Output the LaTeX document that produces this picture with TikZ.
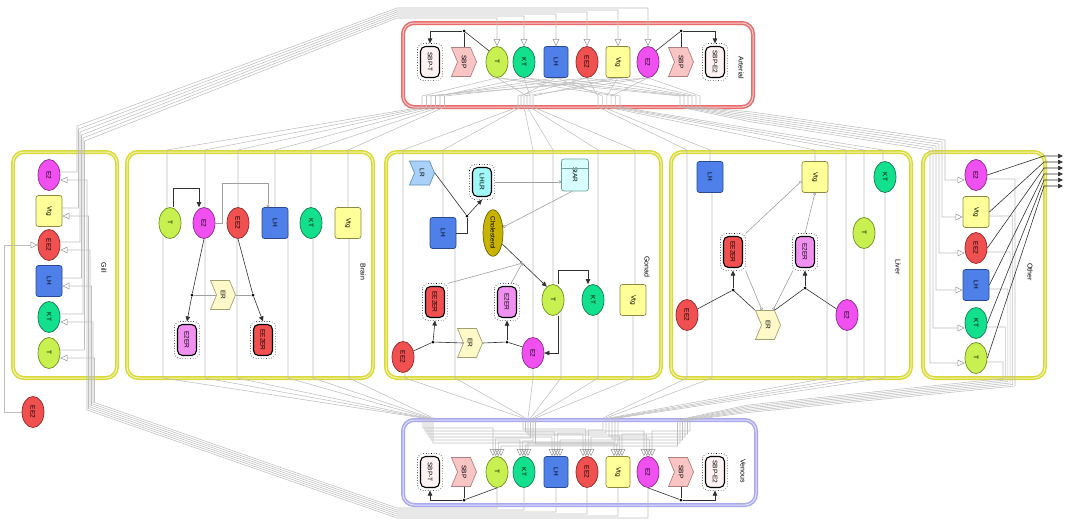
\documentclass[tikz,border=0pt]{standalone}
\usepackage{graphicx}
\usepackage{fontspec}
\setmainfont{Liberation Sans}
\usetikzlibrary{arrows.meta,shapes.geometric,shapes.symbols,calc}
\pgfdeclarelayer{background}
\pgfsetlayers{background,main}
\newcommand{\rtx}[1]{\rotatebox[origin=c]{-90}{#1}}
\definecolor{fT}{HTML}{C8F050}\definecolor{dT}{HTML}{6E8E20}
\definecolor{fKT}{HTML}{12E08C}\definecolor{dKT}{HTML}{137A4E}
\definecolor{fLH}{HTML}{4F80EA}\definecolor{dLH}{HTML}{2A4A90}
\definecolor{fEE}{HTML}{F05050}\definecolor{dEE}{HTML}{902828}
\definecolor{fVtg}{HTML}{FFFF99}\definecolor{dVtg}{HTML}{8A8A40}
\definecolor{fE}{HTML}{F050F0}\definecolor{dE}{HTML}{8A2A8A}
\definecolor{fCh}{HTML}{C8B400}\definecolor{dCh}{HTML}{6A6000}
\definecolor{fSBP}{HTML}{F8C4C4}\definecolor{dSBP}{HTML}{B08080}
\definecolor{fER}{HTML}{FFF8C8}\definecolor{dER}{HTML}{A0A070}
\definecolor{fLR}{HTML}{A8D0F8}\definecolor{dLR}{HTML}{6090C0}
\definecolor{fStAR}{HTML}{D8FFFF}\definecolor{dStAR}{HTML}{70A0A0}
\definecolor{fE2ER}{HTML}{F090F0}
\definecolor{fLHLR}{HTML}{A0F8F8}
\definecolor{fSBPc}{HTML}{FFF2F2}
\definecolor{tisA}{HTML}{D8D838}\definecolor{tisB}{HTML}{F4F4B0}
\definecolor{artA}{HTML}{E86A6A}\definecolor{artB}{HTML}{FAD0D0}
\definecolor{venA}{HTML}{A8A8EE}\definecolor{venB}{HTML}{E2E2FF}
\definecolor{wire}{HTML}{BEBEBE}
\definecolor{dark}{HTML}{303030}
\tikzset{
  nbase/.style={inner sep=0pt, font=\fontsize{6.5}{7}\selectfont, line width=0.7pt},
  ell/.style={nbase, ellipse, minimum width=22pt, minimum height=31pt},
  rct/.style={nbase, rectangle, rounded corners=2.5pt, minimum width=26pt, minimum height=31pt},
  spT/.style={ell, fill=fT, draw=dT},
  spKT/.style={ell, fill=fKT, draw=dKT},
  spEE/.style={ell, fill=fEE, draw=dEE},
  spE/.style={ell, fill=fE, draw=dE},
  spLH/.style={rct, fill=fLH, draw=dLH},
  spVtg/.style={rct, fill=fVtg, draw=dVtg},
  cplx/.style={nbase, rectangle, rounded corners=5pt, draw=black, line width=1.1pt, minimum width=19pt, minimum height=31pt},
  sig/.style={nbase, signal, signal to=east, signal from=west, signal pointer angle=135, minimum width=25pt, minimum height=29pt},
  tbox/.style={draw=tisA, double=tisB, double distance=1pt, line width=1.5pt, rounded corners=11pt},
  abox/.style={draw=artA, double=artB, double distance=1pt, line width=1.5pt, rounded corners=11pt},
  vbox/.style={draw=venA, double=venB, double distance=1pt, line width=1.5pt, rounded corners=11pt},
  lbl/.style={font=\fontsize{7}{8}\selectfont, inner sep=0pt},
  wr/.style={draw=wire, line width=0.55pt},
  gin/.style={wr, -{Triangle[open, length=7pt, width=6.5pt, color=gray!80]}},
  blk/.style={draw=dark, line width=0.6pt},
  blkarr/.style={blk, -{Triangle[length=5pt, width=4.5pt]}},
  grl/.style={draw=gray!75, line width=0.6pt},
  grc/.style={grl, -{Circle[open, length=3pt]}},
  inh/.style={grl, -{Bar[width=5pt]}},
  jdot/.style={circle, fill=black, inner sep=0pt, minimum size=3pt},
}
\begin{document}
\begin{tikzpicture}[x=1pt,y=-1pt]
\useasboundingbox (0,0) rectangle (1069,520);

% ---------------- compartments ----------------
\begin{pgfonlayer}{background}
\draw[abox] (403,23) rectangle (753,107);
\draw[vbox] (403,420) rectangle (756,505);
\draw[tbox] (13,152) rectangle (117,378);
\draw[tbox] (127,152) rectangle (373,378);
\draw[tbox] (386,152) rectangle (661,378);
\draw[tbox] (671,152) rectangle (911,378);
\draw[tbox] (923,152) rectangle (1045,378);
\end{pgfonlayer}

\node[lbl] (lArt) at (741,68) {\rtx{Arterial}};
\node[lbl] (lVen) at (743,471) {\rtx{Venous}};
\node[lbl] (lGill) at (104,268) {\rtx{Gill}};
\node[lbl] (lBrain) at (363,272) {\rtx{Brain}};
\node[lbl] (lGonad) at (647,267) {\rtx{Gonad}};
\node[lbl] (lLiver) at (898,267) {\rtx{Liver}};
\node[lbl] (lOther) at (1030,272) {\rtx{Other}};

% ---------------- Arterial ----------------
\node[cplx, fill=fSBPc] (aSBPT) at (430,62) {\rtx{SBP-T}};
\node[sig, fill=fSBP, draw=dSBP] (aSBP1) at (464,62) {\rtx{SBP}};
\node[spT] (aT) at (497,62) {\rtx{T}};
\node[spKT] (aKT) at (524,62) {\rtx{KT}};
\node[spLH, minimum width=24pt] (aLH) at (556,62) {\rtx{LH}};
\node[spEE] (aEE2) at (587,62) {\rtx{EE2}};
\node[spVtg, minimum width=24pt] (aVtg) at (618,62) {\rtx{Vtg}};
\node[spE] (aE2) at (648,62) {\rtx{E2}};
\node[sig, fill=fSBP, draw=dSBP] (aSBP2) at (681,62) {\rtx{SBP}};
\node[cplx, fill=fSBPc] (aSBPE2) at (715,62) {\rtx{SBP-E2}};

% ---------------- Venous ----------------
\node[cplx, fill=fSBPc] (vSBPT) at (430,472) {\rtx{SBP-T}};
\node[sig, fill=fSBP, draw=dSBP] (vSBP1) at (464,472) {\rtx{SBP}};
\node[spT] (vT) at (497,472) {\rtx{T}};
\node[spKT] (vKT) at (524,472) {\rtx{KT}};
\node[spLH, minimum width=24pt] (vLH) at (556,472) {\rtx{LH}};
\node[spEE] (vEE2) at (587,472) {\rtx{EE2}};
\node[spVtg, minimum width=24pt] (vVtg) at (618,472) {\rtx{Vtg}};
\node[spE] (vE2) at (648,472) {\rtx{E2}};
\node[sig, fill=fSBP, draw=dSBP] (vSBP2) at (681,472) {\rtx{SBP}};
\node[cplx, fill=fSBPc] (vSBPE2) at (715,472) {\rtx{SBP-E2}};

% ---------------- Gill ----------------
\node[spE] (giE2) at (49,175) {\rtx{E2}};
\node[spVtg] (giVtg) at (49,211) {\rtx{Vtg}};
\node[spEE] (giEE2) at (49,245) {\rtx{EE2}};
\node[spLH] (giLH) at (49,281) {\rtx{LH}};
\node[spKT] (giKT) at (49,317) {\rtx{KT}};
\node[spT] (giT) at (49,353) {\rtx{T}};
\node[spEE] (giEEo) at (33,412) {\rtx{EE2}};

% ---------------- Brain ----------------
\node[spT] (bT) at (170,223) {\rtx{T}};
\node[spE] (bE2) at (204,223) {\rtx{E2}};
\node[spEE] (bEE2) at (238,223) {\rtx{EE2}};
\node[spLH] (bLH) at (275,223) {\rtx{LH}};
\node[spKT] (bKT) at (311,223) {\rtx{KT}};
\node[spVtg] (bVtg) at (348,223) {\rtx{Vtg}};
\node[sig, fill=fER, draw=dER] (bER) at (223,295) {\rtx{ER}};
\node[cplx, fill=fE2ER] (bE2ER) at (187,340) {\rtx{E2ER}};
\node[cplx, fill=fEE] (bEE2ER) at (263,340) {\rtx{EE2ER}};

% ---------------- Gonad ----------------
\node[sig, fill=fLR, draw=dLR, minimum width=25pt, minimum height=24pt] (gLR) at (422,173) {\rtx{LR}};
\node[cplx, fill=fLHLR, minimum height=29pt] (gLHLR) at (482,182) {\rtx{LHLR}};
\node[rct, fill=fStAR, draw=dStAR, minimum width=27pt, minimum height=32pt] (gStAR) at (575,175) {\rtx{StAR}};
\node[spLH] (gLH) at (443,233) {\rtx{LH}};
\node[ell, fill=fCh, draw=dCh, minimum width=20pt, minimum height=43pt] (gChol) at (493,233) {\rtx{Cholesterol}};
\node[cplx, fill=fEE] (gEE2ER) at (435,302) {\rtx{EE2ER}};
\node[cplx, fill=fE2ER] (gE2ER) at (507,302) {\rtx{E2ER}};
\node[spT] (gT) at (553,300) {\rtx{T}};
\node[spKT] (gKT) at (593,300) {\rtx{KT}};
\node[spVtg] (gVtg) at (633,300) {\rtx{Vtg}};
\node[spEE] (gEE2) at (403,357) {\rtx{EE2}};
\node[sig, fill=fER, draw=dER] (gER) at (470,343) {\rtx{ER}};
\node[spE] (gE2) at (533,353) {\rtx{E2}};

% ---------------- Liver ----------------
\node[spLH] (lLH) at (710,177) {\rtx{LH}};
\node[spVtg] (lVtg) at (815,177) {\rtx{Vtg}};
\node[spKT] (lKT) at (885,177) {\rtx{KT}};
\node[spT] (lT) at (864,233) {\rtx{T}};
\node[cplx, fill=fEE] (lEE2ER) at (733,252) {\rtx{EE2ER}};
\node[cplx, fill=fE2ER] (lE2ER) at (805,252) {\rtx{E2ER}};
\node[spEE] (lEE2) at (687,315) {\rtx{EE2}};
\node[spE] (lE2) at (847,315) {\rtx{E2}};
\node[sig, fill=fER, draw=dER] (lER) at (768,325) {\rtx{ER}};

% ---------------- Other ----------------
\node[spE] (oE2) at (976,175) {\rtx{E2}};
\node[spVtg] (oVtg) at (976,212) {\rtx{Vtg}};
\node[spEE] (oEE2) at (976,248) {\rtx{EE2}};
\node[spLH] (oLH) at (976,285) {\rtx{LH}};
\node[spKT] (oKT) at (976,323) {\rtx{KT}};
\node[spT] (oT) at (976,358) {\rtx{T}};

% dotted outlines of complexes
\foreach \n in {aSBPT,aSBPE2,vSBPT,vSBPE2,bE2ER,bEE2ER,gLHLR,gEE2ER,gE2ER,lEE2ER,lE2ER}
  \draw[dotted, line width=0.6pt, rounded corners=6pt] ([shift={(-2.5pt,2.5pt)}]\n.north west) rectangle ([shift={(2.5pt,-2.5pt)}]\n.south east);
\draw[dStAR, line width=0.6pt] ($(gStAR.north west)!0.28!(gStAR.south west)$) -- ($(gStAR.north east)!0.28!(gStAR.south east)$);

% ---------------- transport wires ----------------
\begin{pgfonlayer}{background}
% Gill -> Arterial
\foreach \s/\k in {E2/0,Vtg/1,EE2/2,LH/3,KT/4,T/5}{
  \pgfmathsetmacro\xo{77+1.5*\k}
  \pgfmathsetmacro\yt{8+2*\k}
  \pgfmathsetmacro\yb{126+3*\k}
  \draw[gin] ([yshift=3pt]gi\s.center) -| (\xo,\yb) -- (397,\yt) -| (a\s.north);
}
% Venous -> Gill
\foreach \s/\k in {E2/0,Vtg/1,EE2/2,LH/3,KT/4,T/5}{
  \pgfmathsetmacro\xi{87+1.5*\k}
  \pgfmathsetmacro\yb{518-2*\k}
  \pgfmathsetmacro\by{410-1.5*\k}
  \draw[gin] (v\s.center) |- (397,\yb) -- (\xi,\by) |- ([yshift=-5pt]gi\s.east);
}
\draw[gin] (giEEo.west) -- (4,412) -- (4,245) -- (giEE2.west);
% Arterial -> Brain
\foreach \s/\tx/\ty/\r in {T/167/206/0,E2/205/206/1,EE2/238/206/2,LH/275/207/3,KT/311/206/4,Vtg/348/207/5}{
  \pgfmathsetmacro\bx{422+4.5*\r}
  \draw[gin] (a\s.south) -- (\bx,96) -- (\bx,107) -- (\tx,150) -- (b\s.center -| \tx,\ty);
}
% Arterial -> Gonad
\foreach \s/\tx/\ty/\r in {EE2/403/341/0,LH/443/217/1,E2/533/337/2,T/553/284/3,KT/598/285/4,Vtg/635/284/5}{
  \pgfmathsetmacro\bx{518+3*\r}
  \draw[gin] (a\s.south) -- (\bx,96) -- (\bx,107) -- (\tx,150) -- (g\s.center -| \tx,\ty);
}
% Arterial -> Liver
\foreach \s/\tx/\ty/\r in {EE2/687/299/0,LH/710/161/1,Vtg/815/161/2,E2/846/299/3,T/864/217/4,KT/883/161/5}{
  \pgfmathsetmacro\bx{598+4.4*\r}
  \draw[gin] (a\s.south) -- (\bx,96) -- (\bx,107) -- (\tx,150) -- (l\s.center -| \tx,\ty);
}
% Arterial -> Other
\foreach \s/\k in {E2/0,Vtg/1,EE2/2,LH/3,KT/4,T/5}{
  \pgfmathsetmacro\bx{700-4*\k}
  \pgfmathsetmacro\yl{112+2*\k}
  \pgfmathsetmacro\xo{945-3*\k}
  \pgfmathsetmacro\by{140+2*\k}
  \draw[gin] (a\s.south) -- (\bx,96) -- (\bx,107) -- (752,\yl) -- (\xo,\by) |- ([yshift=-5pt]o\s.west);
}
% Brain -> Venous
\foreach \s/\tx/\r in {T/163/0,E2/205/1,EE2/237/2,LH/288/3,KT/313/4,Vtg/349/5}{
  \pgfmathsetmacro\bx{423+2*\r}
  \pgfmathsetmacro\yy{428+3*\r}
  \draw[gin] (b\s.center -| \tx,0) -- (\tx,378) -- (\bx,418) -- (\bx,\yy) -| ([xshift=-4pt]v\s.north);
}
% Gonad -> Venous
\foreach \s/\tx/\r in {EE2/405/0,LH/455/1,E2/533/2,T/561/3,KT/598/4,Vtg/633/5}{
  \pgfmathsetmacro\bx{523+2.5*\r}
  \pgfmathsetmacro\yy{429+3*\r}
  \draw[gin] (g\s.center -| \tx,0) -- (\tx,378) -- (\bx,418) -- (\bx,\yy) -| ([xshift=-1.3pt]v\s.north);
}
% Liver -> Venous
\foreach \s/\tx/\r in {EE2/687/0,LH/712/1,Vtg/827/2,E2/847/3,T/864/4,KT/885/5}{
  \pgfmathsetmacro\bx{603+3*\r}
  \pgfmathsetmacro\yy{430+3*\r}
  \draw[gin] (l\s.center -| \tx,0) -- (\tx,378) -- (\bx,418) -- (\bx,\yy) -| ([xshift=1.3pt]v\s.north);
}
% Other -> Venous
\foreach \s/\k in {E2/0,Vtg/1,EE2/2,LH/3,KT/4,T/5}{
  \pgfmathsetmacro\xo{1015-2.4*\k}
  \pgfmathsetmacro\by{386-1.5*\k}
  \pgfmathsetmacro\yl{412.5-1.5*\k}
  \pgfmathsetmacro\bx{690-2.5*\k}
  \pgfmathsetmacro\yy{431+3*\k}
  \draw[gin] ([yshift=-4pt]o\s.center) -| (\xo,\by) -- (748,\yl) -- (\bx,420) -- (\bx,\yy) -| ([xshift=4pt]v\s.north);
}
\end{pgfonlayer}

% ---------------- reactions ----------------
% Arterial
\node[jdot] (jA1) at (464,31) {};
\node[jdot] (jA2) at (681,31) {};
\draw[blk] (aT.north west) -- (jA1);
\draw[blk] (aSBP1.north) -- (jA1);
\draw[blkarr] (jA1) -| ([yshift=2.5pt]aSBPT.north);
\draw[blk] (aE2.north east) -- (jA2);
\draw[blk] (aSBP2.north) -- (jA2);
\draw[blkarr] (jA2) -| ([yshift=2.5pt]aSBPE2.north);
% Venous
\node[jdot] (jV1) at (464,500) {};
\node[jdot] (jV2) at (681,500) {};
\draw[blk] (vT.south) -- (jV1);
\draw[blk] (vSBP1.south) -- (jV1);
\draw[blkarr] (jV1) -| ([yshift=-2.5pt]vSBPT.south);
\draw[blk] (vE2.south) -- (jV2);
\draw[blk] (vSBP2.south) -- (jV2);
\draw[blkarr] (jV2) -| ([yshift=-2.5pt]vSBPE2.south);
% Brain
\node[jdot] (bj1) at (192,295) {};
\node[jdot] (bj2) at (253,295) {};
\draw[blkarr] ([xshift=3pt]bT.north) |- (199,188) -- ([xshift=-5pt]bE2.north);
\draw[grc] (bE2.east) -- (222,223) |- (268,183) -- ([xshift=-7pt]bLH.north);
\draw[blk] (bE2.south) -- (bj1);
\draw[blkarr] (bj1) -- ([yshift=2.5pt]bE2ER.north);
\draw[blk] (bEE2.south) -- (bj2);
\draw[blkarr] (bj2) -- ([yshift=2.5pt]bEE2ER.north);
\draw[grl] (bER.west) -- (bj1);
\draw[grl] (bER.east) -- (bj2);
% Gonad
\node[jdot] (gj) at (467,216) {};
\node[jdot] (gj1) at (433,342) {};
\node[jdot] (gj2) at (507,342) {};
\draw[blk] (gLR.east) -- (gj);
\draw[blk] (gLH.east) -| (gj);
\draw[blkarr] (gj) -- ([yshift=-2.5pt]gLHLR.south);
\draw[grc] ([xshift=2.5pt]gLHLR.east) -- (gStAR.west |- gLHLR.east);
\draw[grc] ([xshift=-3pt]gStAR.south) -- (gChol.30);
\draw[blkarr] (gChol.-50) -- (gT.115);
\coordinate (gInh) at ($(gChol.-50)!0.45!(gT.115)$);
\draw[inh] ([shift={(2.5pt,2.5pt)}]gEE2ER.north east) -- (gInh);
\draw[inh] ([shift={(4pt,2.5pt)}]gE2ER.north) -- (gInh);
\draw[blkarr] ([xshift=5pt]gT.north) |- (588,270) -- ([xshift=-5pt]gKT.north);
\draw[blkarr] ([xshift=5pt]gT.south) |- (gE2.east);
\draw[blk] (gEE2.30) -- (gj1);
\draw[blk] (gER.west) -- (gj1);
\draw[blkarr] (gj1) -- ([yshift=-2.5pt]gEE2ER.south);
\draw[blk] (gER.east) -- (gj2);
\draw[blk] (gE2.150) -- (gj2);
\draw[blkarr] (gj2) -- ([yshift=-2.5pt]gE2ER.south);
% Liver
\node[jdot] (lj1) at (733,290) {};
\node[jdot] (lj2) at (805,288) {};
\draw[grc] ([shift={(2.5pt,2.5pt)}]lEE2ER.north east) -- ([yshift=-4pt]lVtg.west);
\draw[grc] ([yshift=2.5pt]lE2ER.north) -- (lVtg.south);
\draw[grc] ([shift={(2.5pt,-2.5pt)}]lEE2ER.south east) -- ([xshift=-6pt]lER.north);
\draw[grc] ([shift={(-2pt,-2.5pt)}]lE2ER.south west) -- ([xshift=5pt]lER.north);
\draw[blk] (lEE2.30) -- (lj1);
\draw[blk] (lER.north west) -- (lj1);
\draw[blkarr] (lj1) -- ([yshift=-2.5pt]lEE2ER.south);
\draw[blk] (lE2.150) -- (lj2);
\draw[blk] (lER.north east) -- (lj2);
\draw[blkarr] (lj2) -- ([yshift=-2.5pt]lE2ER.south);
% Other -> outputs
\foreach \s/\k in {E2/0,Vtg/1,EE2/2,LH/3,KT/4,T/5}{
  \draw[blkarr] (o\s.east) -- (1044,{156+6*\k}) -- (1063,{156+6*\k});
}
\end{tikzpicture}
\end{document}
